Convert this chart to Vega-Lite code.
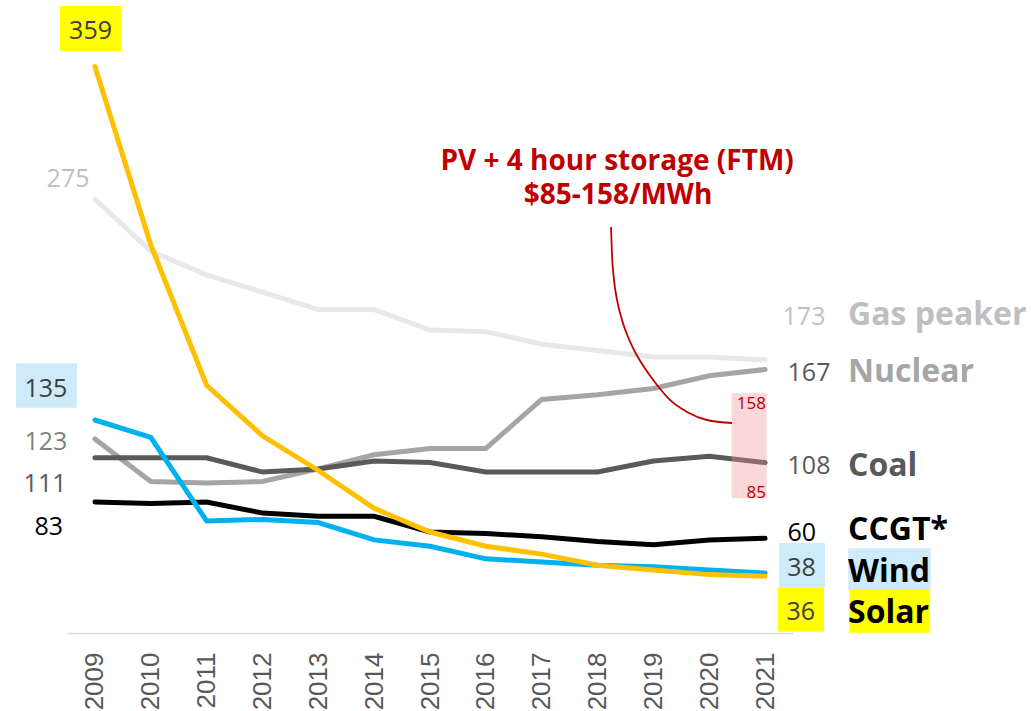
{
  "$schema": "https://vega.github.io/schema/vega-lite/v6.json",
  "width": 726,
  "height": 568,
  "autosize": {"type": "none"},
  "padding": {"left": 67, "top": 65, "right": 238, "bottom": 78},
  "background": "white",
  "config": {"view": {"stroke": null}, "font": "Open Sans"},
  "datasets": {
    "lcoe": [
      {"year": 2009, "Gas": 275, "Nuclear": 123, "Coal": 111, "CCGT": 83, "Wind": 135, "Solar": 359},
      {"year": 2010, "Gas": 242, "Nuclear": 96, "Coal": 111, "CCGT": 82, "Wind": 124, "Solar": 246},
      {"year": 2011, "Gas": 227, "Nuclear": 95, "Coal": 111, "CCGT": 83, "Wind": 71, "Solar": 157},
      {"year": 2012, "Gas": 216, "Nuclear": 96, "Coal": 102, "CCGT": 76, "Wind": 72, "Solar": 125},
      {"year": 2013, "Gas": 205, "Nuclear": 104, "Coal": 104, "CCGT": 74, "Wind": 70, "Solar": 103},
      {"year": 2014, "Gas": 205, "Nuclear": 113, "Coal": 109, "CCGT": 74, "Wind": 59, "Solar": 79},
      {"year": 2015, "Gas": 192, "Nuclear": 117, "Coal": 108, "CCGT": 64, "Wind": 55, "Solar": 64},
      {"year": 2016, "Gas": 191, "Nuclear": 117, "Coal": 102, "CCGT": 63, "Wind": 47, "Solar": 55},
      {"year": 2017, "Gas": 183, "Nuclear": 148, "Coal": 102, "CCGT": 61, "Wind": 45, "Solar": 50},
      {"year": 2018, "Gas": 179, "Nuclear": 151, "Coal": 102, "CCGT": 58, "Wind": 43, "Solar": 43},
      {"year": 2019, "Gas": 175, "Nuclear": 155, "Coal": 109, "CCGT": 56, "Wind": 42, "Solar": 40},
      {"year": 2020, "Gas": 175, "Nuclear": 163, "Coal": 112, "CCGT": 59, "Wind": 40, "Solar": 37},
      {"year": 2021, "Gas": 173, "Nuclear": 167, "Coal": 108, "CCGT": 60, "Wind": 38, "Solar": 36}
    ],
    "storage": [
      {"year": 2021, "low": 85, "high": 158, "line1": "PV + 4 hour storage (FTM)", "line2": "$85-158/MWh"}
    ],
    "pointer": [
      {"year": 2018.241, "value": 257.3},
      {"year": 2018.259, "value": 239.6},
      {"year": 2018.295, "value": 223.7},
      {"year": 2018.349, "value": 211.1},
      {"year": 2018.438, "value": 198.4},
      {"year": 2018.546, "value": 187.6},
      {"year": 2018.671, "value": 178.1},
      {"year": 2018.832, "value": 168.6},
      {"year": 2019.065, "value": 157.2},
      {"year": 2019.297, "value": 147.7},
      {"year": 2019.602, "value": 140.1},
      {"year": 2019.96, "value": 135.0},
      {"year": 2020.408, "value": 133.1}
    ]
  },
  "layer": [
    {
      "data": {"name": "lcoe"},
      "mark": {"type": "line", "color": "#E8E8E8", "strokeWidth": 5, "strokeCap": "round"},
      "encoding": {
        "x": {"field": "year", "type": "quantitative", "scale": {"domain": [2008.5, 2021.5], "nice": false, "zero": false},
          "axis": {"values": [2009, 2010, 2011, 2012, 2013, 2014, 2015, 2016, 2017, 2018, 2019, 2020, 2021], "format": "d", "labelAngle": 270, "labelFontSize": 26, "labelFont": "Liberation Sans", "labelColor": "#595959", "labelPadding": 19, "ticks": false, "grid": false, "domain": true, "domainColor": "#d9d9d9", "domainWidth": 1.5, "title": null, "labelOverlap": false, "labelBound": false, "labelFlush": false}},
        "y": {"field": "Gas", "type": "quantitative", "scale": {"domain": [0, 360], "nice": false, "zero": false}, "axis": null}
      }
    },
    {
      "data": {"name": "lcoe"},
      "mark": {"type": "line", "color": "#A5A5A5", "strokeWidth": 5, "strokeCap": "round"},
      "encoding": {
        "x": {"field": "year", "type": "quantitative", "scale": {"domain": [2008.5, 2021.5], "nice": false, "zero": false}},
        "y": {"field": "Nuclear", "type": "quantitative", "scale": {"domain": [0, 360], "nice": false, "zero": false}, "axis": null}
      }
    },
    {
      "data": {"name": "lcoe"},
      "mark": {"type": "line", "color": "#5A5A5A", "strokeWidth": 5, "strokeCap": "round"},
      "encoding": {
        "x": {"field": "year", "type": "quantitative", "scale": {"domain": [2008.5, 2021.5], "nice": false, "zero": false}},
        "y": {"field": "Coal", "type": "quantitative", "scale": {"domain": [0, 360], "nice": false, "zero": false}, "axis": null}
      }
    },
    {
      "data": {"name": "lcoe"},
      "mark": {"type": "line", "color": "#000000", "strokeWidth": 5, "strokeCap": "round"},
      "encoding": {
        "x": {"field": "year", "type": "quantitative", "scale": {"domain": [2008.5, 2021.5], "nice": false, "zero": false}},
        "y": {"field": "CCGT", "type": "quantitative", "scale": {"domain": [0, 360], "nice": false, "zero": false}, "axis": null}
      }
    },
    {
      "data": {"name": "lcoe"},
      "mark": {"type": "line", "color": "#00B0F0", "strokeWidth": 5, "strokeCap": "round"},
      "encoding": {
        "x": {"field": "year", "type": "quantitative", "scale": {"domain": [2008.5, 2021.5], "nice": false, "zero": false}},
        "y": {"field": "Wind", "type": "quantitative", "scale": {"domain": [0, 360], "nice": false, "zero": false}, "axis": null}
      }
    },
    {
      "data": {"name": "lcoe"},
      "mark": {"type": "line", "color": "#FFC000", "strokeWidth": 5, "strokeCap": "round"},
      "encoding": {
        "x": {"field": "year", "type": "quantitative", "scale": {"domain": [2008.5, 2021.5], "nice": false, "zero": false}},
        "y": {"field": "Solar", "type": "quantitative", "scale": {"domain": [0, 360], "nice": false, "zero": false}, "axis": null}
      }
    },
    {
      "data": {"name": "storage"},
      "mark": {"type": "rect", "fill": "#F28B93", "opacity": 0.35, "xOffset": -33.4, "x2Offset": 1.6, "yOffset": 9.6, "y2Offset": -0.6},
      "encoding": {
        "x": {"field": "year", "type": "quantitative", "scale": {"domain": [2008.5, 2021.5], "nice": false, "zero": false}},
        "x2": {"field": "year"},
        "y": {"field": "high", "type": "quantitative", "scale": {"domain": [0, 360], "nice": false, "zero": false}, "axis": null},
        "y2": {"field": "low"}
      }
    },
    {
      "data": {"name": "pointer"},
      "mark": {"type": "line", "color": "#C00000", "strokeWidth": 1.8, "interpolate": "monotone"},
      "encoding": {
        "x": {"field": "year", "type": "quantitative", "scale": {"domain": [2008.5, 2021.5], "nice": false, "zero": false}},
        "y": {"field": "value", "type": "quantitative", "scale": {"domain": [0, 360], "nice": false, "zero": false}, "axis": null}
      }
    },
    {
      "data": {"name": "storage"},
      "mark": {"type": "text", "color": "#C00000", "fontSize": 17, "align": "right", "baseline": "alphabetic", "dx": 0.9, "dy": 25.3},
      "encoding": {
        "x": {"field": "year", "type": "quantitative", "scale": {"domain": [2008.5, 2021.5], "nice": false, "zero": false}},
        "y": {"field": "high", "type": "quantitative", "scale": {"domain": [0, 360], "nice": false, "zero": false}, "axis": null},
        "text": {"field": "high", "type": "quantitative"}
      }
    },
    {
      "data": {"name": "storage"},
      "mark": {"type": "text", "color": "#C00000", "fontSize": 17, "align": "right", "baseline": "alphabetic", "dx": 0.9, "dy": -1.2},
      "encoding": {
        "x": {"field": "year", "type": "quantitative", "scale": {"domain": [2008.5, 2021.5], "nice": false, "zero": false}},
        "y": {"field": "low", "type": "quantitative", "scale": {"domain": [0, 360], "nice": false, "zero": false}, "axis": null},
        "text": {"field": "low", "type": "quantitative"}
      }
    },
    {
      "data": {"name": "storage"},
      "mark": {"type": "text", "color": "#C00000", "fontSize": 28, "fontWeight": "bold", "align": "center", "baseline": "alphabetic", "dx": -148, "dy": -213.7},
      "encoding": {
        "x": {"field": "year", "type": "quantitative", "scale": {"domain": [2008.5, 2021.5], "nice": false, "zero": false}},
        "y": {"field": "high", "type": "quantitative", "scale": {"domain": [0, 360], "nice": false, "zero": false}, "axis": null},
        "text": {"field": "line1"}
      }
    },
    {
      "data": {"name": "storage"},
      "mark": {"type": "text", "color": "#C00000", "fontSize": 28, "fontWeight": "bold", "align": "center", "baseline": "alphabetic", "dx": -147, "dy": -179.7},
      "encoding": {
        "x": {"field": "year", "type": "quantitative", "scale": {"domain": [2008.5, 2021.5], "nice": false, "zero": false}},
        "y": {"field": "high", "type": "quantitative", "scale": {"domain": [0, 360], "nice": false, "zero": false}, "axis": null},
        "text": {"field": "line2"}
      }
    },
    {
      "data": {"name": "lcoe"},
      "transform": [{"filter": "datum.year == 2009"}],
      "mark": {"type": "rect", "fill": "#FFFF00", "xOffset": -34.9, "x2Offset": 26.1, "yOffset": -60.6, "y2Offset": -15.6},
      "encoding": {
        "x": {"field": "year", "type": "quantitative", "scale": {"domain": [2008.5, 2021.5], "nice": false, "zero": false}},
        "x2": {"field": "year"},
        "y": {"field": "Solar", "type": "quantitative", "scale": {"domain": [0, 360], "nice": false, "zero": false}, "axis": null},
        "y2": {"field": "Solar"}
      }
    },
    {
      "data": {"name": "lcoe"},
      "transform": [{"filter": "datum.year == 2009"}],
      "mark": {"type": "rect", "fill": "#CDEBFB", "xOffset": -78.9, "x2Offset": -17.9, "yOffset": -56.7, "y2Offset": -12.3},
      "encoding": {
        "x": {"field": "year", "type": "quantitative", "scale": {"domain": [2008.5, 2021.5], "nice": false, "zero": false}},
        "x2": {"field": "year"},
        "y": {"field": "Wind", "type": "quantitative", "scale": {"domain": [0, 360], "nice": false, "zero": false}, "axis": null},
        "y2": {"field": "Wind"}
      }
    },
    {
      "data": {"name": "lcoe"},
      "transform": [{"filter": "datum.year == 2021"}],
      "mark": {"type": "rect", "fill": "#CDEBFB", "xOffset": 13.9, "x2Offset": 59.9, "yOffset": -30, "y2Offset": 14},
      "encoding": {
        "x": {"field": "year", "type": "quantitative", "scale": {"domain": [2008.5, 2021.5], "nice": false, "zero": false}},
        "x2": {"field": "year"},
        "y": {"field": "Wind", "type": "quantitative", "scale": {"domain": [0, 360], "nice": false, "zero": false}, "axis": null},
        "y2": {"field": "Wind"}
      }
    },
    {
      "data": {"name": "lcoe"},
      "transform": [{"filter": "datum.year == 2021"}],
      "mark": {"type": "rect", "fill": "#CDEBFB", "xOffset": 83.2, "x2Offset": 165.6, "yOffset": -24.7, "y2Offset": 17},
      "encoding": {
        "x": {"field": "year", "type": "quantitative", "scale": {"domain": [2008.5, 2021.5], "nice": false, "zero": false}},
        "x2": {"field": "year"},
        "y": {"field": "Wind", "type": "quantitative", "scale": {"domain": [0, 360], "nice": false, "zero": false}, "axis": null},
        "y2": {"field": "Wind"}
      }
    },
    {
      "data": {"name": "lcoe"},
      "transform": [{"filter": "datum.year == 2021"}],
      "mark": {"type": "rect", "fill": "#FFFF00", "xOffset": 12.9, "x2Offset": 58.9, "yOffset": 11.1, "y2Offset": 55.5},
      "encoding": {
        "x": {"field": "year", "type": "quantitative", "scale": {"domain": [2008.5, 2021.5], "nice": false, "zero": false}},
        "x2": {"field": "year"},
        "y": {"field": "Solar", "type": "quantitative", "scale": {"domain": [0, 360], "nice": false, "zero": false}, "axis": null},
        "y2": {"field": "Solar"}
      }
    },
    {
      "data": {"name": "lcoe"},
      "transform": [{"filter": "datum.year == 2021"}],
      "mark": {"type": "rect", "fill": "#FFFF00", "xOffset": 84.2, "x2Offset": 165, "yOffset": 13.1, "y2Offset": 56.5},
      "encoding": {
        "x": {"field": "year", "type": "quantitative", "scale": {"domain": [2008.5, 2021.5], "nice": false, "zero": false}},
        "x2": {"field": "year"},
        "y": {"field": "Solar", "type": "quantitative", "scale": {"domain": [0, 360], "nice": false, "zero": false}, "axis": null},
        "y2": {"field": "Solar"}
      }
    },
    {
      "data": {"name": "lcoe"},
      "transform": [{"filter": "datum.year == 2009"}],
      "mark": {"type": "text", "fontSize": 25, "align": "center", "baseline": "alphabetic", "color": "#404040", "dx": -4.4, "dy": -27.6},
      "encoding": {
        "x": {"field": "year", "type": "quantitative", "scale": {"domain": [2008.5, 2021.5], "nice": false, "zero": false}},
        "y": {"field": "Solar", "type": "quantitative", "scale": {"domain": [0, 360], "nice": false, "zero": false}, "axis": null},
        "text": {"field": "Solar", "type": "quantitative"}
      }
    },
    {
      "data": {"name": "lcoe"},
      "transform": [{"filter": "datum.year == 2009"}],
      "mark": {"type": "text", "fontSize": 25, "align": "center", "baseline": "alphabetic", "color": "#BFBFBF", "dx": -26.9, "dy": -12.1},
      "encoding": {
        "x": {"field": "year", "type": "quantitative", "scale": {"domain": [2008.5, 2021.5], "nice": false, "zero": false}},
        "y": {"field": "Gas", "type": "quantitative", "scale": {"domain": [0, 360], "nice": false, "zero": false}, "axis": null},
        "text": {"field": "Gas", "type": "quantitative"}
      }
    },
    {
      "data": {"name": "lcoe"},
      "transform": [{"filter": "datum.year == 2009"}],
      "mark": {"type": "text", "fontSize": 25, "align": "center", "baseline": "alphabetic", "color": "#404040", "dx": -49.1, "dy": -23.3},
      "encoding": {
        "x": {"field": "year", "type": "quantitative", "scale": {"domain": [2008.5, 2021.5], "nice": false, "zero": false}},
        "y": {"field": "Wind", "type": "quantitative", "scale": {"domain": [0, 360], "nice": false, "zero": false}, "axis": null},
        "text": {"field": "Wind", "type": "quantitative"}
      }
    },
    {
      "data": {"name": "lcoe"},
      "transform": [{"filter": "datum.year == 2009"}],
      "mark": {"type": "text", "fontSize": 25, "align": "center", "baseline": "alphabetic", "color": "#7F7F7F", "dx": -49.1, "dy": 11.1},
      "encoding": {
        "x": {"field": "year", "type": "quantitative", "scale": {"domain": [2008.5, 2021.5], "nice": false, "zero": false}},
        "y": {"field": "Nuclear", "type": "quantitative", "scale": {"domain": [0, 360], "nice": false, "zero": false}, "axis": null},
        "text": {"field": "Nuclear", "type": "quantitative"}
      }
    },
    {
      "data": {"name": "lcoe"},
      "transform": [{"filter": "datum.year == 2009"}],
      "mark": {"type": "text", "fontSize": 25, "align": "center", "baseline": "alphabetic", "color": "#595959", "dx": -49.9, "dy": 33.8},
      "encoding": {
        "x": {"field": "year", "type": "quantitative", "scale": {"domain": [2008.5, 2021.5], "nice": false, "zero": false}},
        "y": {"field": "Coal", "type": "quantitative", "scale": {"domain": [0, 360], "nice": false, "zero": false}, "axis": null},
        "text": {"field": "Coal", "type": "quantitative"}
      }
    },
    {
      "data": {"name": "lcoe"},
      "transform": [{"filter": "datum.year == 2009"}],
      "mark": {"type": "text", "fontSize": 25, "align": "center", "baseline": "alphabetic", "color": "#000000", "dx": -46.1, "dy": 33},
      "encoding": {
        "x": {"field": "year", "type": "quantitative", "scale": {"domain": [2008.5, 2021.5], "nice": false, "zero": false}},
        "y": {"field": "CCGT", "type": "quantitative", "scale": {"domain": [0, 360], "nice": false, "zero": false}, "axis": null},
        "text": {"field": "CCGT", "type": "quantitative"}
      }
    },
    {
      "data": {"name": "lcoe"},
      "transform": [{"filter": "datum.year == 2021"}],
      "mark": {"type": "text", "fontSize": 25, "align": "center", "baseline": "alphabetic", "color": "#BFBFBF", "dx": 38.9, "dy": -35},
      "encoding": {
        "x": {"field": "year", "type": "quantitative", "scale": {"domain": [2008.5, 2021.5], "nice": false, "zero": false}},
        "y": {"field": "Gas", "type": "quantitative", "scale": {"domain": [0, 360], "nice": false, "zero": false}, "axis": null},
        "text": {"field": "Gas", "type": "quantitative"}
      }
    },
    {
      "data": {"name": "lcoe"},
      "transform": [{"filter": "datum.year == 2021"}],
      "mark": {"type": "text", "fontSize": 25, "align": "center", "baseline": "alphabetic", "color": "#595959", "dx": 43.9, "dy": 11.2},
      "encoding": {
        "x": {"field": "year", "type": "quantitative", "scale": {"domain": [2008.5, 2021.5], "nice": false, "zero": false}},
        "y": {"field": "Nuclear", "type": "quantitative", "scale": {"domain": [0, 360], "nice": false, "zero": false}, "axis": null},
        "text": {"field": "Nuclear", "type": "quantitative"}
      }
    },
    {
      "data": {"name": "lcoe"},
      "transform": [{"filter": "datum.year == 2021"}],
      "mark": {"type": "text", "fontSize": 25, "align": "center", "baseline": "alphabetic", "color": "#595959", "dx": 43.9, "dy": 11.7},
      "encoding": {
        "x": {"field": "year", "type": "quantitative", "scale": {"domain": [2008.5, 2021.5], "nice": false, "zero": false}},
        "y": {"field": "Coal", "type": "quantitative", "scale": {"domain": [0, 360], "nice": false, "zero": false}, "axis": null},
        "text": {"field": "Coal", "type": "quantitative"}
      }
    },
    {
      "data": {"name": "lcoe"},
      "transform": [{"filter": "datum.year == 2021"}],
      "mark": {"type": "text", "fontSize": 25, "align": "center", "baseline": "alphabetic", "color": "#000000", "dx": 36.6, "dy": 2.7},
      "encoding": {
        "x": {"field": "year", "type": "quantitative", "scale": {"domain": [2008.5, 2021.5], "nice": false, "zero": false}},
        "y": {"field": "CCGT", "type": "quantitative", "scale": {"domain": [0, 360], "nice": false, "zero": false}, "axis": null},
        "text": {"field": "CCGT", "type": "quantitative"}
      }
    },
    {
      "data": {"name": "lcoe"},
      "transform": [{"filter": "datum.year == 2021"}],
      "mark": {"type": "text", "fontSize": 25, "align": "center", "baseline": "alphabetic", "color": "#404040", "dx": 36.4, "dy": 3},
      "encoding": {
        "x": {"field": "year", "type": "quantitative", "scale": {"domain": [2008.5, 2021.5], "nice": false, "zero": false}},
        "y": {"field": "Wind", "type": "quantitative", "scale": {"domain": [0, 360], "nice": false, "zero": false}, "axis": null},
        "text": {"field": "Wind", "type": "quantitative"}
      }
    },
    {
      "data": {"name": "lcoe"},
      "transform": [{"filter": "datum.year == 2021"}],
      "mark": {"type": "text", "fontSize": 25, "align": "center", "baseline": "alphabetic", "color": "#404040", "dx": 35.7, "dy": 43.8},
      "encoding": {
        "x": {"field": "year", "type": "quantitative", "scale": {"domain": [2008.5, 2021.5], "nice": false, "zero": false}},
        "y": {"field": "Solar", "type": "quantitative", "scale": {"domain": [0, 360], "nice": false, "zero": false}, "axis": null},
        "text": {"field": "Solar", "type": "quantitative"}
      }
    },
    {
      "data": {"name": "lcoe"},
      "transform": [{"filter": "datum.year == 2021"}],
      "mark": {"type": "text", "text": "Gas peaker", "fontSize": 32, "fontWeight": "bold", "align": "left", "baseline": "alphabetic", "color": "#BFBFBF", "dx": 83, "dy": -35},
      "encoding": {
        "x": {"field": "year", "type": "quantitative", "scale": {"domain": [2008.5, 2021.5], "nice": false, "zero": false}},
        "y": {"field": "Gas", "type": "quantitative", "scale": {"domain": [0, 360], "nice": false, "zero": false}, "axis": null}
      }
    },
    {
      "data": {"name": "lcoe"},
      "transform": [{"filter": "datum.year == 2021"}],
      "mark": {"type": "text", "text": "Nuclear", "fontSize": 32, "fontWeight": "bold", "align": "left", "baseline": "alphabetic", "color": "#A6A6A6", "dx": 83, "dy": 12.2},
      "encoding": {
        "x": {"field": "year", "type": "quantitative", "scale": {"domain": [2008.5, 2021.5], "nice": false, "zero": false}},
        "y": {"field": "Nuclear", "type": "quantitative", "scale": {"domain": [0, 360], "nice": false, "zero": false}, "axis": null}
      }
    },
    {
      "data": {"name": "lcoe"},
      "transform": [{"filter": "datum.year == 2021"}],
      "mark": {"type": "text", "text": "Coal", "fontSize": 32, "fontWeight": "bold", "align": "left", "baseline": "alphabetic", "color": "#595959", "dx": 83, "dy": 13},
      "encoding": {
        "x": {"field": "year", "type": "quantitative", "scale": {"domain": [2008.5, 2021.5], "nice": false, "zero": false}},
        "y": {"field": "Coal", "type": "quantitative", "scale": {"domain": [0, 360], "nice": false, "zero": false}, "axis": null}
      }
    },
    {
      "data": {"name": "lcoe"},
      "transform": [{"filter": "datum.year == 2021"}],
      "mark": {"type": "text", "text": "CCGT*", "fontSize": 32, "fontWeight": "bold", "align": "left", "baseline": "alphabetic", "color": "#000000", "dx": 83, "dy": 2},
      "encoding": {
        "x": {"field": "year", "type": "quantitative", "scale": {"domain": [2008.5, 2021.5], "nice": false, "zero": false}},
        "y": {"field": "CCGT", "type": "quantitative", "scale": {"domain": [0, 360], "nice": false, "zero": false}, "axis": null}
      }
    },
    {
      "data": {"name": "lcoe"},
      "transform": [{"filter": "datum.year == 2021"}],
      "mark": {"type": "text", "text": "Wind", "fontSize": 32, "fontWeight": "bold", "align": "left", "baseline": "alphabetic", "color": "#000000", "dx": 83, "dy": 8.7},
      "encoding": {
        "x": {"field": "year", "type": "quantitative", "scale": {"domain": [2008.5, 2021.5], "nice": false, "zero": false}},
        "y": {"field": "Wind", "type": "quantitative", "scale": {"domain": [0, 360], "nice": false, "zero": false}, "axis": null}
      }
    },
    {
      "data": {"name": "lcoe"},
      "transform": [{"filter": "datum.year == 2021"}],
      "mark": {"type": "text", "text": "Solar", "fontSize": 32, "fontWeight": "bold", "align": "left", "baseline": "alphabetic", "color": "#000000", "dx": 83, "dy": 46.3},
      "encoding": {
        "x": {"field": "year", "type": "quantitative", "scale": {"domain": [2008.5, 2021.5], "nice": false, "zero": false}},
        "y": {"field": "Solar", "type": "quantitative", "scale": {"domain": [0, 360], "nice": false, "zero": false}, "axis": null}
      }
    }
  ]
}
